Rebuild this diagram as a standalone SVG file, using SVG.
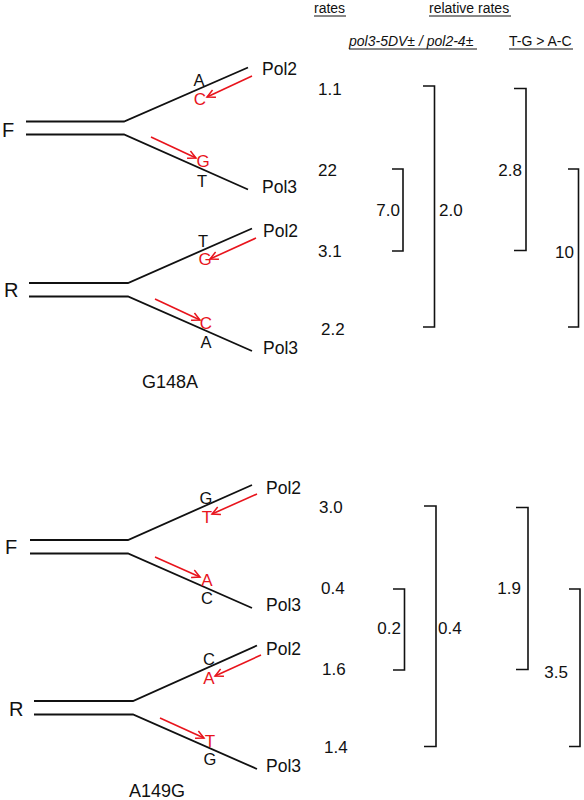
<svg xmlns="http://www.w3.org/2000/svg" width="584" height="800" viewBox="0 0 584 800">
<defs>
<marker id="ah" markerUnits="userSpaceOnUse" markerWidth="12" markerHeight="12" refX="9" refY="5" orient="auto">
<path d="M1,1 L9,5 L1,9" fill="none" stroke="#e8141c" stroke-width="1.5"/>
</marker>
<style>
.k{stroke:#111;stroke-width:1.8;fill:none}
.r{stroke:#e8141c;stroke-width:1.6;fill:none}
.b{stroke:#111;stroke-width:1.6;fill:none}
text{font-family:"Liberation Sans",Arial,sans-serif;fill:#111}
.fr{font-size:20px}
.pol{font-size:17.5px}
.bs{font-size:16.5px;text-anchor:middle}
.rd{font-size:17px;text-anchor:middle;fill:#e8141c}
.num{font-size:17px}
.hd{font-size:14px}
.end{text-anchor:end}
</style>
</defs>
<g id="header">
<text class="hd" x="314" y="13">rates</text>
<line x1="314" y1="16" x2="346" y2="16" stroke="#111" stroke-width="1"/>
<text class="hd" x="429" y="13">relative rates</text>
<line x1="429" y1="16" x2="511" y2="16" stroke="#111" stroke-width="1"/>
<text class="hd" x="349" y="46" font-style="italic">pol3-5DV± / pol2-4±</text>
<line x1="349" y1="49" x2="477" y2="49" stroke="#111" stroke-width="1"/>
<text class="hd" x="509" y="46">T-G &gt; A-C</text>
<line x1="509" y1="49" x2="573" y2="49" stroke="#111" stroke-width="1"/>
</g>
<g id="fork-F-G148A">
<path class="k" d="M26,121.5 H124 L248,67.5 M26,134.5 H124 L248,189.5"/>
<text class="fr" x="2" y="137">F</text>
<text class="pol" x="262" y="75">Pol2</text>
<text class="pol" x="262" y="193">Pol3</text>
<text class="bs" x="199" y="86">A</text>
<text class="rd" x="200" y="105">C</text>
<text class="rd" x="203" y="167">G</text>
<text class="bs" x="202" y="187">T</text>
</g>
<g id="fork-R-G148A">
<path class="k" d="M29,283 H128 L252,228.5 M29,296.5 H128 L252,351"/>
<text class="fr" x="4" y="297">R</text>
<text class="pol" x="263" y="237">Pol2</text>
<text class="pol" x="263" y="354">Pol3</text>
<text class="bs" x="203" y="247">T</text>
<text class="rd" x="205" y="265">G</text>
<text class="rd" x="206" y="329">C</text>
<text class="bs" x="206" y="348">A</text>
<text x="170" y="388" font-size="18" text-anchor="middle">G148A</text>
</g>
<g id="fork-F-A149G">
<path class="k" d="M30,540 H128 L252,485 M30,553.5 H128 L252,608"/>
<text class="fr" x="5" y="554">F</text>
<text class="pol" x="266" y="494">Pol2</text>
<text class="pol" x="266" y="611">Pol3</text>
<text class="bs" x="206" y="504">G</text>
<text class="rd" x="207" y="523">T</text>
<text class="rd" x="207" y="586">A</text>
<text class="bs" x="207" y="604">C</text>
</g>
<g id="fork-R-A149G">
<path class="k" d="M34,701 H133 L257,645.5 M34,714.5 H133 L257,769"/>
<text class="fr" x="9" y="716">R</text>
<text class="pol" x="266" y="655">Pol2</text>
<text class="pol" x="266" y="772">Pol3</text>
<text class="bs" x="209" y="665">C</text>
<text class="rd" x="209" y="684">A</text>
<text class="rd" x="210" y="747">T</text>
<text class="bs" x="210" y="765">G</text>
<text x="157" y="797" font-size="18" text-anchor="middle">A149G</text>
</g>
<g id="connectors">
<line class="r" x1="252" y1="76" x2="207" y2="97" marker-end="url(#ah)"/>
<line class="r" x1="151" y1="137" x2="196" y2="158" marker-end="url(#ah)"/>
<line class="r" x1="256" y1="238" x2="210" y2="259" marker-end="url(#ah)"/>
<line class="r" x1="155" y1="299" x2="200" y2="320" marker-end="url(#ah)"/>
<line class="r" x1="257" y1="494" x2="212" y2="514" marker-end="url(#ah)"/>
<line class="r" x1="155" y1="557" x2="200" y2="577" marker-end="url(#ah)"/>
<line class="r" x1="261" y1="655" x2="215" y2="676" marker-end="url(#ah)"/>
<line class="r" x1="160" y1="718" x2="204" y2="738" marker-end="url(#ah)"/>
</g>
<g id="rates-top">
<text class="num" x="318" y="95">1.1</text>
<text class="num" x="318" y="176">22</text>
<text class="num" x="318" y="257">3.1</text>
<text class="num" x="321" y="335">2.2</text>
</g>
<g id="brackets-top">
<path class="b" d="M392,169 H403 V251 H392"/>
<text class="num end" x="400" y="216">7.0</text>
<path class="b" d="M423,86 H434.5 V327 H423"/>
<text class="num" x="439" y="216">2.0</text>
<path class="b" d="M514,88.5 H526 V250.5 H514"/>
<text class="num end" x="522" y="176">2.8</text>
<path class="b" d="M568,169 H578.5 V327 H568"/>
<text class="num end" x="574" y="258">10</text>
</g>
<g id="rates-bottom">
<text class="num" x="319" y="513">3.0</text>
<text class="num" x="321" y="594">0.4</text>
<text class="num" x="322" y="675">1.6</text>
<text class="num" x="324" y="753">1.4</text>
</g>
<g id="brackets-bottom">
<path class="b" d="M393,589 H404.5 V670 H393"/>
<text class="num end" x="401" y="634">0.2</text>
<path class="b" d="M424,506 H436 V746.5 H424"/>
<text class="num" x="438" y="634">0.4</text>
<path class="b" d="M516,507.5 H528 V669.5 H516"/>
<text class="num end" x="521" y="594">1.9</text>
<path class="b" d="M569,589 H580 V746.5 H569"/>
<text class="num end" x="568" y="678">3.5</text>
</g>
</svg>
